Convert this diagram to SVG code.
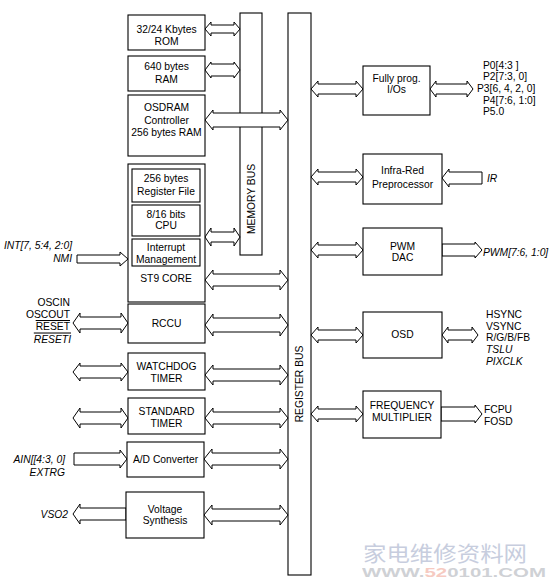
<svg xmlns="http://www.w3.org/2000/svg" width="550" height="583" viewBox="0 0 550 583">
<style>
.box{fill:#fff;stroke:#000;stroke-width:1.1}
.bus{fill:#fff;stroke:#000;stroke-width:1.1}
.arr{fill:#fff;stroke:#000;stroke-width:1}
text{font-family:"Liberation Sans",Arial,sans-serif;font-size:10.3px;fill:#000}
.c{text-anchor:middle}
.e{text-anchor:end}
.i{font-style:italic}
.ol{text-decoration:overline}
</style>
<rect width="550" height="583" fill="#fff"/>
<g id="buses">
<g id="memory-bus"><rect class="bus" x="240" y="13" width="22" height="242"/><text transform="translate(254.5,199) rotate(-90)" class="c">MEMORY BUS</text></g>
<g id="register-bus"><rect class="bus" x="288" y="13" width="23" height="562"/><text transform="translate(303,384) rotate(-90)" class="c">REGISTER BUS</text></g>
</g>
<g id="connectors">
<path class="arr" d="M205,29 L211,22 L211,25 L234,25 L234,22 L240,29 L234,36 L234,33 L211,33 L211,36 Z"/>
<path class="arr" d="M205,70 L211,62 L211,64 L234,64 L234,62 L240,70 L234,78 L234,76 L211,76 L211,78 Z"/>
<path class="arr" d="M205,120 L213,110 L213,113 L280,113 L280,110 L288,120 L280,130 L280,127 L213,127 L213,130 Z"/>
<path class="arr" d="M205,237 L211,228 L211,232 L234,232 L234,228 L240,237 L234,246 L234,242 L211,242 L211,246 Z"/>
<path class="arr" d="M205,280 L213,270 L213,274 L280,274 L280,270 L288,280 L280,290 L280,286 L213,286 L213,290 Z"/>
<path class="arr" d="M77,255 L120,255 L120,252 L128,259 L120,266 L120,263 L77,263 Z"/>
<path class="arr" d="M73,323 L80,313 L80,317 L121,317 L121,313 L128,323 L121,333 L121,329 L80,329 L80,333 Z"/>
<path class="arr" d="M205,325 L213,314 L213,318 L280,318 L280,314 L288,325 L280,336 L280,332 L213,332 L213,336 Z"/>
<path class="arr" d="M73,372 L80,363 L80,366 L121,366 L121,363 L128,372 L121,381 L121,378 L80,378 L80,381 Z"/>
<path class="arr" d="M205,375 L213,365 L213,369 L280,369 L280,365 L288,375 L280,385 L280,381 L213,381 L213,385 Z"/>
<path class="arr" d="M73,418 L80,408 L80,412 L121,412 L121,408 L128,418 L121,428 L121,424 L80,424 L80,428 Z"/>
<path class="arr" d="M205,418 L213,408 L213,412 L280,412 L280,408 L288,418 L280,428 L280,424 L213,424 L213,428 Z"/>
<path class="arr" d="M74,453 L120,453 L120,450 L127,459 L120,468 L120,465 L74,465 Z"/>
<path class="arr" d="M204,459 L212,449 L212,453 L280,453 L280,449 L288,459 L280,469 L280,465 L212,465 L212,469 Z"/>
<path class="arr" d="M126,508 L80,508 L80,504 L73,514 L80,524 L80,520 L126,520 Z"/>
<path class="arr" d="M204,515 L212,505 L212,509 L280,509 L280,505 L288,515 L280,525 L280,521 L212,521 L212,525 Z"/>
<path class="arr" d="M311,89 L318,81 L318,84 L356,84 L356,81 L363,89 L356,97 L356,94 L318,94 L318,97 Z"/>
<path class="arr" d="M430,89 L436,81 L436,84 L467,84 L467,81 L473,89 L467,97 L467,94 L436,94 L436,97 Z"/>
<path class="arr" d="M311,177 L318,169 L318,172 L356,172 L356,169 L363,177 L356,185 L356,182 L318,182 L318,185 Z"/>
<path class="arr" d="M482,172 L449,172 L449,169 L442,178 L449,187 L449,184 L482,184 Z"/>
<path class="arr" d="M311,250 L318,242 L318,245 L356,245 L356,242 L363,250 L356,258 L356,255 L318,255 L318,258 Z"/>
<path class="arr" d="M442,244 L475,244 L475,242 L482,250 L475,258 L475,256 L442,256 Z"/>
<path class="arr" d="M311,335 L318,327 L318,330 L356,330 L356,327 L363,335 L356,343 L356,340 L318,340 L318,343 Z"/>
<path class="arr" d="M442,335 L448,327 L448,330 L472,330 L472,327 L478,335 L472,343 L472,340 L448,340 L448,343 Z"/>
<path class="arr" d="M311,414 L318,406 L318,409 L356,409 L356,406 L363,414 L356,422 L356,419 L318,419 L318,422 Z"/>
<path class="arr" d="M441,407 L475,407 L475,405 L482,414 L475,423 L475,421 L441,421 Z"/>
</g>
<g id="rom"><rect class="box" x="128" y="15" width="77" height="35"/><text x="166.5" y="33" class="c">32/24 Kbytes</text><text x="166.5" y="45" class="c">ROM</text></g>
<g id="ram"><rect class="box" x="128" y="56" width="77" height="35"/><text x="166.5" y="70" class="c">640 bytes</text><text x="166.5" y="82.5" class="c">RAM</text></g>
<g id="osdram"><rect class="box" x="128" y="95" width="77" height="61"/><text x="166.5" y="110.5" class="c">OSDRAM</text><text x="166.5" y="123.5" class="c">Controller</text><text x="166.5" y="135.5" class="c">256 bytes RAM</text></g>
<g id="st9-core"><rect class="box" x="128" y="164" width="77" height="138"/><text x="166" y="282" class="c">ST9 CORE</text>
<g id="register-file"><rect class="box" x="132" y="169" width="68" height="33"/><text x="166" y="182" class="c">256 bytes</text><text x="166" y="194.5" class="c">Register File</text></g>
<g id="cpu"><rect class="box" x="132" y="205" width="68" height="31"/><text x="166" y="217.5" class="c">8/16 bits</text><text x="166" y="229" class="c">CPU</text></g>
<g id="interrupt"><rect class="box" x="132" y="239" width="68" height="27"/><text x="166" y="251" class="c">Interrupt</text><text x="166" y="263" class="c">Management</text></g>
</g>
<g id="rccu"><rect class="box" x="128" y="304" width="77" height="39"/><text x="166.5" y="327" class="c">RCCU</text></g>
<g id="watchdog"><rect class="box" x="128" y="353" width="77" height="37"/><text x="166.5" y="369.5" class="c">WATCHDOG</text><text x="166.5" y="381.5" class="c">TIMER</text></g>
<g id="standard-timer"><rect class="box" x="128" y="398" width="77" height="36"/><text x="166.5" y="414.5" class="c">STANDARD</text><text x="166.5" y="426.5" class="c">TIMER</text></g>
<g id="adc"><rect class="box" x="127" y="442" width="77" height="35"/><text x="165.5" y="462.5" class="c">A/D Converter</text></g>
<g id="voltage-synthesis"><rect class="box" x="126" y="492" width="78" height="46"/><text x="165" y="512.5" class="c">Voltage</text><text x="165" y="523.5" class="c">Synthesis</text></g>
<g id="io"><rect class="box" x="363" y="66" width="67" height="49"/><text x="396.5" y="81.5" class="c">Fully prog.</text><text x="396.5" y="93" class="c">I/Os</text></g>
<g id="infrared"><rect class="box" x="363" y="154" width="79" height="50"/><text x="402.5" y="173.5" class="c">Infra-Red</text><text x="402.5" y="187.5" class="c">Preprocessor</text></g>
<g id="pwm"><rect class="box" x="363" y="228" width="79" height="47"/><text x="402.5" y="249.5" class="c">PWM</text><text x="402.5" y="261" class="c">DAC</text></g>
<g id="osd"><rect class="box" x="363" y="312" width="79" height="46"/><text x="402.5" y="337.5" class="c">OSD</text></g>
<g id="freq-mult"><rect class="box" x="363" y="391" width="78" height="47"/><text x="402" y="409" class="c">FREQUENCY</text><text x="402" y="421" class="c">MULTIPLIER</text></g>
<g id="labels">
<text x="72" y="249" class="e i">INT[7, 5:4, 2:0]</text>
<text x="72" y="262" class="e i">NMI</text>
<text x="70" y="306" class="e">OSCIN</text>
<text x="70" y="317.5" class="e">OSCOUT</text>
<text x="70" y="330" class="e ol">RESET</text>
<text x="71" y="342.5" class="e i ol">RESETI</text>
<text x="65" y="462.5" class="e i">AIN[[4:3, 0]</text>
<text x="65" y="475.5" class="e i">EXTRG</text>
<text x="68" y="518" class="e i">VSO2</text>
<text x="483" y="68.5">P0[4:3 ]</text>
<text x="483" y="80">P2[7:3, 0]</text>
<text x="477" y="92">P3[6, 4, 2, 0]</text>
<text x="483" y="103.5">P4[7:6, 1:0]</text>
<text x="483" y="115">P5.0</text>
<text x="487" y="182" class="i">IR</text>
<text x="483" y="256" class="i">PWM[7:6, 1:0]</text>
<text x="486" y="318">HSYNC</text>
<text x="486" y="329.5">VSYNC</text>
<text x="486" y="341">R/G/B/FB</text>
<text x="486" y="352.5" class="i">TSLU</text>
<text x="486" y="364.5" class="i">PIXCLK</text>
<text x="484" y="413">FCPU</text>
<text x="484" y="425">FOSD</text>
</g>
<g id="watermark" opacity="0.55">
<text x="363" y="561" style="font-family:'Noto Sans CJK SC',sans-serif;font-size:21px;fill:#9aa6c4" textLength="164" lengthAdjust="spacingAndGlyphs">家电维修资料网</text>
<text x="362" y="577" style="font-size:12.5px;font-weight:bold;fill:#a8acb4" textLength="184" lengthAdjust="spacingAndGlyphs">WWW.<tspan style="fill:#f0a090">52</tspan>0101.COM</text>
</g>
</svg>
